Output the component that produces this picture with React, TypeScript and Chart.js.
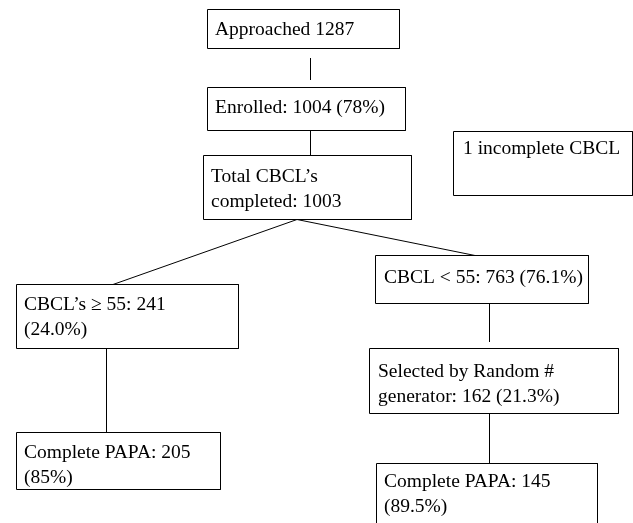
import React, { useEffect, useRef } from "react";
import { Chart, registerables } from "chart.js";

Chart.register(...registerables);

// Box contents (text lines) — the flowchart values
const boxLines: string[][] = [
  ["Approached 1287"],
  ["Enrolled: 1004 (78%)"],
  ["Total CBCL\u2019s", "completed: 1003"],
  ["1 incomplete CBCL"],
  ["CBCL\u2019s \u2265 55: 241", "(24.0%)"],
  ["CBCL < 55: 763 (76.1%)"],
  ["Selected by Random #", "generator: 162 (21.3%)"],
  ["Complete PAPA: 205", "(85%)"],
  ["Complete PAPA: 145", "(89.5%)"],
];

// Layout (scale units): [left, top, right, bottom, textX, firstBaseline]
const boxLayout: number[][] = [
  [207.5, 9.5, 399.5, 48.5, 215, 35],
  [207.5, 87.5, 405.5, 130.5, 215, 113],
  [203.5, 155.5, 411.5, 219.5, 211, 182],
  [453.5, 131.5, 632.5, 195.5, 463, 154],
  [16.5, 284.5, 238.5, 348.5, 24, 310],
  [375.5, 255.5, 588.5, 303.5, 384, 283],
  [369.5, 348.5, 618.5, 413.5, 378, 377],
  [16.5, 432.5, 220.5, 489.5, 24, 458],
  [376.5, 463.5, 597.5, 540, 384, 487],
];

// Connectors (scale units): [x1, y1, x2, y2]
const connectors: number[][] = [
  [310.5, 58, 310.5, 80],
  [310.5, 130.5, 310.5, 155.5],
  [297, 219.5, 113, 284.5],
  [297, 219.5, 475, 255.5],
  [106.5, 348.5, 106.5, 432.5],
  [489.5, 303.5, 489.5, 342],
  [489.5, 413.5, 489.5, 463.5],
];

const LINE_HEIGHT = 25;
const FONT = "19.5px 'Liberation Serif', 'Times New Roman', serif";

export default function App() {
  const ref = useRef<HTMLCanvasElement>(null);

  useEffect(() => {
    document.body.style.margin = "0";
    const canvas = ref.current;
    if (!canvas) return;

    const datasets: any[] = [];
    boxLayout.forEach((b) => {
      const [l, t, r, bt] = b;
      datasets.push({
        data: [
          { x: l, y: t },
          { x: r, y: t },
          { x: r, y: bt },
          { x: l, y: bt },
          { x: l, y: t },
        ],
        showLine: true,
        borderColor: "#000",
        borderWidth: 1,
        pointRadius: 0,
        fill: false,
        tension: 0,
      });
    });
    connectors.forEach((c) => {
      datasets.push({
        data: [
          { x: c[0], y: c[1] },
          { x: c[2], y: c[3] },
        ],
        showLine: true,
        borderColor: "#000",
        borderWidth: 1,
        pointRadius: 0,
        fill: false,
        tension: 0,
      });
    });

    const textPlugin = {
      id: "boxText",
      afterDatasetsDraw(chart: any) {
        const ctx = chart.ctx;
        const xs = chart.scales.x;
        const ys = chart.scales.y;
        ctx.save();
        ctx.fillStyle = "#000";
        ctx.font = FONT;
        ctx.textAlign = "left";
        ctx.textBaseline = "alphabetic";
        boxLines.forEach((lines, i) => {
          const b = boxLayout[i];
          lines.forEach((line, j) => {
            const px = xs.getPixelForValue(b[4]);
            const py = ys.getPixelForValue(b[5] + j * LINE_HEIGHT);
            ctx.fillText(line, px, py);
          });
        });
        ctx.restore();
      },
    };

    const chart = new Chart(canvas, {
      type: "scatter",
      data: { datasets },
      options: {
        animation: false,
        responsive: false,
        maintainAspectRatio: false,
        layout: { padding: 0 },
        plugins: {
          legend: { display: false },
          tooltip: { enabled: false },
          title: { display: false },
        },
        scales: {
          x: { type: "linear", min: 0, max: 633, display: false },
          y: { type: "linear", min: 0, max: 523, reverse: true, display: false },
        },
      },
      plugins: [textPlugin],
    });
    return () => chart.destroy();
  }, []);

  return (
    <div style={{ width: 633, height: 523, background: "#fff" }}>
      <canvas ref={ref} width={633} height={523} />
    </div>
  );
}
